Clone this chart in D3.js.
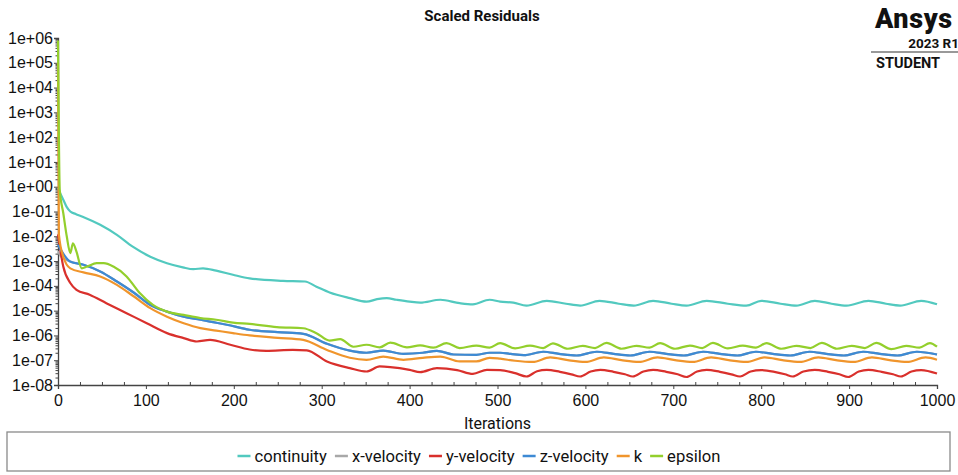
<!DOCTYPE html>
<html>
<head>
<meta charset="utf-8">
<script src="https://cdn.jsdelivr.net/npm/d3@7"></script>
<style>
  html, body { margin: 0; padding: 0; background: #fff; }
  svg { display: block; font-family: Roboto, "Noto Sans", sans-serif; }
</style>
</head>
<body>
<svg id="chart" width="958" height="475"></svg>
<script>
// Residual history: [iteration, scaled residual]
const continuity = [
  [0, 0.9], [2, 0.6], [6, 0.3], [10, 0.15], [14, 0.1], [20, 0.08], [28, 0.062], [48, 0.029],
  [67, 0.0114], [85, 3.8e-3], [105, 1.5e-3], [124, 8.2e-4], [142, 5.6e-4], [154, 4.7e-4],
  [165, 5.1e-4], [180, 4.1e-4], [199, 2.8e-4], [218, 2.0e-4], [256, 1.6e-4], [281, 1.5e-4],
  [294, 9.3e-5], [309, 5.4e-5], [332, 3.2e-5], [351, 2.3e-5], [363, 2.9e-5], [374, 3.2e-5],
  [385, 2.75e-5], [400, 2.3e-5], [412, 2.1e-5], [435, 2.75e-5], [457, 2.0e-5], [472, 1.8e-5],
  [491, 2.75e-5], [503, 2.3e-5], [518, 2.1e-5], [533, 1.6e-5], [556, 2.5e-5], [578, 1.9e-5],
  [594, 1.6e-5], [616, 2.5e-5], [638, 1.9e-5], [655, 1.6e-5], [677, 2.5e-5], [698, 1.9e-5],
  [715, 1.6e-5], [738, 2.5e-5], [762, 1.9e-5], [783, 1.6e-5], [800, 2.5e-5], [822, 1.9e-5],
  [840, 1.6e-5], [861, 2.5e-5], [880, 1.9e-5], [897, 1.6e-5], [922, 2.5e-5], [942, 1.9e-5],
  [958, 1.6e-5], [982, 2.5e-5], [1000, 1.8e-5]
];
const xVelocity = [
  [0, 2.5e-3], [3, 1.6e-3], [8, 1.2e-3], [14, 9.5e-4], [29, 7.1e-4], [48, 3.8e-4], [67, 1.5e-4],
  [86, 5.4e-5], [105, 1.7e-5], [124, 9.1e-6], [143, 5.7e-6], [162, 4.3e-6], [173, 3.6e-6],
  [192, 2.7e-6], [218, 1.7e-6], [250, 1.35e-6], [279, 1.16e-6], [306, 4.6e-7], [332, 2.45e-7],
  [351, 2.0e-7], [370, 2.45e-7], [393, 1.8e-7], [415, 2.0e-7], [431, 2.4e-7], [450, 1.7e-7],
  [476, 1.65e-7], [491, 2.0e-7], [503, 2.0e-7], [515, 1.8e-7], [530, 1.6e-7], [552, 2.2e-7],
  [570, 1.8e-7], [590, 1.55e-7], [613, 2.2e-7], [632, 1.8e-7], [651, 1.55e-7], [673, 2.2e-7],
  [692, 1.8e-7], [712, 1.55e-7], [734, 2.2e-7], [753, 1.8e-7], [773, 1.55e-7], [794, 2.2e-7],
  [813, 1.8e-7], [833, 1.55e-7], [855, 2.2e-7], [874, 1.8e-7], [894, 1.55e-7], [916, 2.2e-7],
  [935, 1.8e-7], [955, 1.55e-7], [977, 2.2e-7], [1000, 1.7e-7]
];
const yVelocity = [
  [0, 1.2e-2], [6, 6.0e-4], [14, 1.3e-4], [21, 6.9e-5], [36, 4.4e-5], [55, 2.0e-5], [78, 7.9e-6],
  [101, 3.1e-6], [124, 1.24e-6], [143, 7.8e-7], [158, 5.7e-7], [173, 6.6e-7], [196, 4.2e-7],
  [218, 2.7e-7], [237, 2.4e-7], [267, 2.6e-7], [283, 2.5e-7], [306, 8.9e-8], [332, 4.8e-8],
  [351, 3.5e-8], [366, 5.6e-8], [378, 5.3e-8], [400, 4.1e-8], [412, 3.3e-8], [431, 4.8e-8],
  [454, 4.0e-8], [472, 2.8e-8], [488, 4.1e-8], [503, 4.0e-8], [520, 3.0e-8], [533, 2.2e-8],
  [545, 3.6e-8], [556, 4.1e-8], [571, 3.4e-8], [584, 2.7e-8], [594, 2.2e-8], [606, 3.5e-8],
  [617, 4.1e-8], [632, 3.4e-8], [645, 2.7e-8], [654, 2.2e-8], [666, 3.5e-8], [677, 4.1e-8],
  [692, 3.4e-8], [705, 2.7e-8], [715, 2.1e-8], [727, 3.5e-8], [738, 4.1e-8], [753, 3.4e-8],
  [766, 2.7e-8], [776, 2.2e-8], [788, 3.5e-8], [800, 4.0e-8], [815, 3.4e-8], [827, 2.7e-8],
  [836, 2.2e-8], [848, 3.5e-8], [861, 4.1e-8], [876, 3.4e-8], [889, 2.7e-8], [899, 2.1e-8],
  [911, 3.5e-8], [922, 4.1e-8], [937, 3.4e-8], [950, 2.7e-8], [959, 2.2e-8], [971, 3.5e-8],
  [982, 4.0e-8], [1000, 2.9e-8]
];
const zVelocity = [
  [0, 4.5e-3], [14, 9.5e-4], [29, 7.1e-4], [48, 3.8e-4], [67, 1.5e-4],
  [86, 5.4e-5], [105, 1.7e-5], [124, 9.1e-6], [143, 5.7e-6], [162, 4.3e-6], [173, 3.6e-6],
  [192, 2.7e-6], [218, 1.7e-6], [250, 1.35e-6], [279, 1.16e-6], [306, 4.6e-7], [332, 2.45e-7],
  [351, 2.0e-7], [370, 2.45e-7], [393, 1.8e-7], [415, 2.0e-7], [431, 2.4e-7], [450, 1.7e-7],
  [476, 1.65e-7], [491, 2.0e-7], [503, 2.0e-7], [515, 1.8e-7], [530, 1.6e-7], [552, 2.2e-7],
  [570, 1.8e-7], [590, 1.55e-7], [613, 2.2e-7], [632, 1.8e-7], [651, 1.55e-7], [673, 2.2e-7],
  [692, 1.8e-7], [712, 1.55e-7], [734, 2.2e-7], [753, 1.8e-7], [773, 1.55e-7], [794, 2.2e-7],
  [813, 1.8e-7], [833, 1.55e-7], [855, 2.2e-7], [874, 1.8e-7], [894, 1.55e-7], [916, 2.2e-7],
  [935, 1.8e-7], [955, 1.55e-7], [977, 2.2e-7], [1000, 1.7e-7]
];
const kResidual = [
  [0, 1e5], [1, 1.2e-2], [6, 1.5e-3], [14, 5.1e-4], [29, 3.5e-4], [48, 2.4e-4], [67, 1.1e-4],
  [86, 3.8e-5], [105, 1.26e-5], [124, 5.7e-6], [143, 3.1e-6], [162, 1.96e-6], [180, 1.57e-6],
  [199, 1.24e-6], [218, 1.0e-6], [250, 8.0e-7], [279, 6.6e-7], [306, 2.6e-7], [332, 1.26e-7],
  [351, 1.04e-7], [370, 1.4e-7], [393, 1.04e-7], [415, 1.25e-7], [435, 1.4e-7], [457, 8.9e-8],
  [476, 8.9e-8], [491, 1.25e-7], [503, 1.15e-7], [520, 9.5e-8], [540, 8.5e-8], [560, 1.3e-7],
  [580, 1.0e-7], [600, 8.5e-8], [621, 1.3e-7], [641, 1.0e-7], [661, 8.5e-8], [682, 1.3e-7],
  [702, 1.0e-7], [722, 8.5e-8], [743, 1.3e-7], [763, 1.0e-7], [783, 8.5e-8], [804, 1.3e-7],
  [824, 1.0e-7], [844, 8.5e-8], [865, 1.3e-7], [885, 1.0e-7], [905, 8.5e-8], [926, 1.3e-7],
  [946, 1.0e-7], [966, 8.5e-8], [987, 1.3e-7], [1000, 1.05e-7]
];
const epsilon = [
  [0, 8e5], [2, 0.74], [6, 0.087], [10, 9.8e-3], [14, 2.1e-3], [17, 5.2e-3], [21, 2.4e-3],
  [27, 5.1e-4], [33, 6.0e-4], [44, 8.2e-4], [52, 8.2e-4], [63, 6.0e-4], [78, 2.4e-4],
  [93, 5.1e-5], [108, 1.7e-5], [124, 9.1e-6], [143, 6.7e-6], [162, 5.0e-6], [180, 4.3e-6],
  [199, 3.3e-6], [218, 2.9e-6], [249, 2.15e-6], [279, 1.95e-6], [294, 1.23e-6], [309, 6.2e-7],
  [321, 7.1e-7], [336, 3.5e-7], [351, 4.2e-7], [366, 3.3e-7], [378, 5.1e-7], [397, 3.3e-7],
  [412, 4.0e-7], [427, 3.2e-7], [442, 4.9e-7], [457, 3.1e-7], [476, 3.9e-7], [491, 3.2e-7],
  [503, 4.9e-7], [520, 3.0e-7], [537, 3.9e-7], [552, 3.1e-7], [563, 4.8e-7], [580, 2.9e-7],
  [597, 3.8e-7], [611, 3.1e-7], [624, 5.0e-7], [641, 2.9e-7], [658, 3.8e-7], [673, 3.2e-7],
  [685, 4.9e-7], [702, 2.9e-7], [719, 3.9e-7], [733, 3.1e-7], [745, 5.0e-7], [762, 3.0e-7],
  [779, 3.9e-7], [794, 3.2e-7], [806, 4.9e-7], [823, 2.9e-7], [840, 3.8e-7], [856, 3.1e-7],
  [869, 5.0e-7], [886, 2.9e-7], [903, 3.8e-7], [918, 3.1e-7], [931, 5.0e-7], [948, 2.8e-7],
  [965, 3.8e-7], [980, 3.2e-7], [992, 4.9e-7], [1000, 3.5e-7]
];

const seriesNames = ["continuity", "x-velocity", "y-velocity", "z-velocity", "k", "epsilon"];
const seriesColors = ["#52c9bf", "#a8a8a8", "#d9302c", "#3d8ad4", "#f0952c", "#93cf2c"];
const seriesData = [continuity, xVelocity, yVelocity, zVelocity, kResidual, epsilon];

const xTickValues = [0, 100, 200, 300, 400, 500, 600, 700, 800, 900, 1000];
const yTickValues = [1e6, 1e5, 1e4, 1e3, 1e2, 1e1, 1e0, 1e-1, 1e-2, 1e-3, 1e-4, 1e-5, 1e-6, 1e-7, 1e-8];
const yTickLabels = ["1e+06", "1e+05", "1e+04", "1e+03", "1e+02", "1e+01", "1e+00",
  "1e-01", "1e-02", "1e-03", "1e-04", "1e-05", "1e-06", "1e-07", "1e-08"];

const svg = d3.select("#chart");
const plot = { left: 58, right: 937, top: 38, bottom: 385 };

const x = d3.scaleLinear().domain([0, 1000]).range([plot.left, plot.right]);
const y = d3.scaleLog().domain([1e-8, 1e6]).range([plot.bottom, plot.top]);

// Title
svg.append("text")
  .attr("x", 482).attr("y", 21)
  .attr("text-anchor", "middle")
  .attr("font-size", 15).attr("font-weight", "bold")
  .attr("fill", "#111")
  .text("Scaled Residuals");

// Product badge
const badge = svg.append("g");
badge.append("text").attr("x", 875).attr("y", 28)
  .attr("font-size", 27).attr("font-weight", 900).attr("letter-spacing", 0.6)
  .attr("fill", "#111").text("Ansys");
badge.append("text").attr("x", 959).attr("y", 48).attr("text-anchor", "end")
  .attr("font-size", 13.5).attr("font-weight", "bold").attr("fill", "#111").text("2023 R1");
badge.append("line").attr("x1", 871).attr("x2", 958).attr("y1", 52).attr("y2", 52)
  .attr("stroke", "#777").attr("stroke-width", 1.6);
badge.append("text").attr("x", 876).attr("y", 68)
  .attr("font-size", 14.5).attr("font-weight", "bold").attr("fill", "#111").text("STUDENT");

// Minor ticks
const yMinor = [];
for (let e = -8; e < 6; e++) for (let m = 2; m <= 9; m++) yMinor.push(m * Math.pow(10, e));
const xMinor = d3.range(25, 1000, 25).filter(v => v % 100 !== 0);

const axisColor = "#444";

const yMinorAxis = svg.append("g").attr("transform", `translate(${plot.left},0)`)
  .call(d3.axisLeft(y).tickValues(yMinor).tickSize(2.5).tickFormat(""));
yMinorAxis.select(".domain").remove();

const xMinorAxis = svg.append("g").attr("transform", `translate(0,${plot.bottom})`)
  .call(d3.axisBottom(x).tickValues(xMinor).tickSize(-3).tickFormat(""));
xMinorAxis.select(".domain").remove();

const yAxis = svg.append("g").attr("transform", `translate(${plot.left},0)`)
  .call(d3.axisLeft(y).tickValues(yTickValues).tickSize(4).tickPadding(1)
    .tickFormat((d, i) => yTickLabels[i]));
const xAxis = svg.append("g").attr("transform", `translate(0,${plot.bottom})`)
  .call(d3.axisBottom(x).tickValues(xTickValues).tickSize(4).tickPadding(6)
    .tickFormat(d3.format("d")));

[yAxis, xAxis].forEach(g => {
  g.selectAll("text").attr("font-size", 16).attr("fill", "#111").attr("font-family", null);
  g.select(".domain").attr("stroke", axisColor).attr("stroke-width", 1.3);
});
[yAxis, xAxis, yMinorAxis, xMinorAxis].forEach(g => g.selectAll(".tick line").attr("stroke", axisColor));

svg.append("text")
  .attr("x", (plot.left + plot.right) / 2).attr("y", 429)
  .attr("text-anchor", "middle").attr("font-size", 16).attr("fill", "#111")
  .text("Iterations");

// Residual curves
const line = d3.line()
  .x(d => x(d[0]))
  .y(d => y(d[1]))
  .curve(d3.curveMonotoneX);

svg.append("g").selectAll("path")
  .data(seriesData)
  .join("path")
  .attr("d", line)
  .attr("fill", "none")
  .attr("stroke", (d, i) => seriesColors[i])
  .attr("stroke-width", 2.2)
  .attr("stroke-linejoin", "round");

// Legend
svg.append("rect")
  .attr("x", 7).attr("y", 432).attr("width", 943).attr("height", 39)
  .attr("fill", "#fff").attr("stroke", "#8a8a8a").attr("stroke-width", 1.3);

const legend = svg.append("g");
let cursor = 0;
seriesNames.forEach((name, i) => {
  const item = legend.append("g").attr("transform", `translate(${cursor},0)`);
  item.append("line").attr("x1", 0).attr("x2", 13).attr("y1", 0).attr("y2", 0)
    .attr("stroke", seriesColors[i]).attr("stroke-width", 2.5);
  const t = item.append("text").attr("x", 17).attr("y", 0).attr("dy", "0.35em")
    .attr("font-size", 16.6).attr("fill", "#111").text(name);
  cursor += 17 + t.node().getComputedTextLength() + 8;
});
const legendWidth = cursor - 8;
legend.attr("transform", `translate(${479 - legendWidth / 2},456)`);
</script>
</body>
</html>
